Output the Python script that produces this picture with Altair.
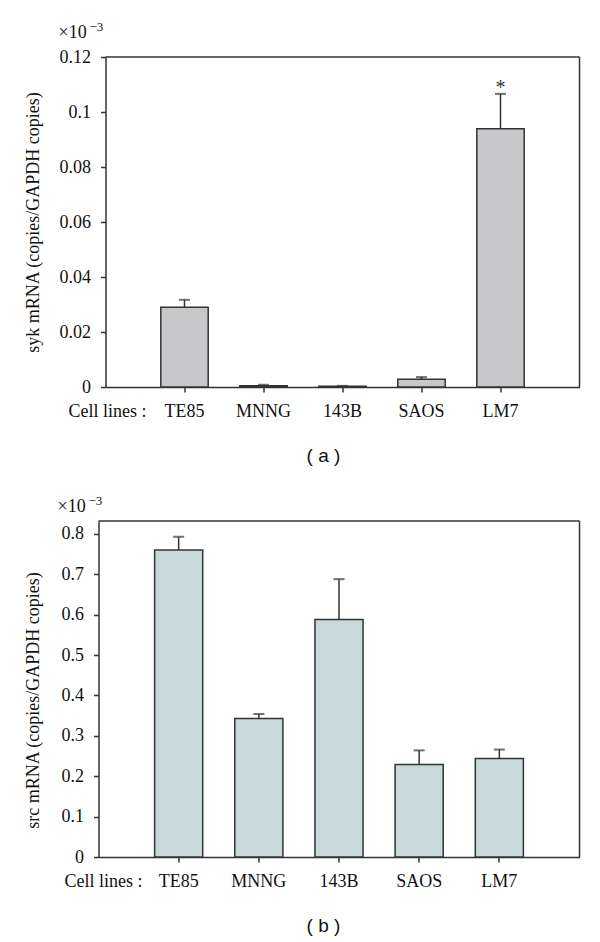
import altair as alt
import pandas as pd

cells = ["TE85", "MNNG", "143B", "SAOS", "LM7"]
syk = [0.0290, 0.0005, 0.0003, 0.0028, 0.0939]
syk_err = [0.0027, 0.0003, 0.0001, 0.0008, 0.0127]
src = [0.760, 0.343, 0.588, 0.229, 0.244]
src_err = [0.033, 0.011, 0.100, 0.035, 0.022]
syk_ticks = [0, 0.02, 0.04, 0.06, 0.08, 0.1, 0.12]
src_ticks = [0, 0.1, 0.2, 0.3, 0.4, 0.5, 0.6, 0.7, 0.8]
star_cells = ["LM7"]
texts = {"cell": "Cell lines :", "mult": "×10", "exp": "−3", "a": "( a )", "b": "( b )"}

SERIF = "Liberation Serif"
SANS = "Liberation Sans"
DARK = "#333333"
W = 481


def text_layer(t, x, y, size, font=SERIF, align="left", baseline="alphabetic"):
    d = pd.DataFrame({"t": [t]})
    return alt.Chart(d).mark_text(font=font, fontSize=size, color="#111", align=align,
                                  baseline=baseline).encode(
        text="t:N", x=alt.value(x), y=alt.value(y))


def frame_rule(**enc):
    d = pd.DataFrame({"k": [0]})
    return alt.Chart(d).mark_rule(color=DARK, strokeWidth=1.5).encode(**enc)


def panel(values, errs, ticks, ymax, ytitle, color, h, shift, tpad, tag, stars,
          cell_x, mult_xy, exp_xy, tag_x, titleY=None):
    df = pd.DataFrame({"cell": cells, "val": values,
                       "hi": [v + e for v, e in zip(values, errs)]})
    xaxis = alt.Axis(title=None, labelAngle=0, labelFont=SERIF, labelFontSize=18,
                     labelColor="#111", labelPadding=10, tickSize=5, tickColor=DARK,
                     tickWidth=1.5, domainColor=DARK, domainWidth=1.5)
    x = alt.X("cell:N", sort=cells,
              scale=alt.Scale(paddingInner=0.4, paddingOuter=0.7, range=[shift, W]),
              axis=xaxis)
    yaxis = dict(title=ytitle, values=ticks, labelExpr="format(datum.value, '~g')",
                 labelFont=SERIF, labelFontSize=18, offset=-shift,
                 labelColor="#111", labelPadding=10, tickSize=5, tickColor=DARK, tickWidth=1.5,
                 domainColor=DARK, domainWidth=1.5, titleFont=SERIF, titleFontSize=18,
                 titleFontWeight="normal", titleColor="#111", titlePadding=tpad, grid=False)
    if titleY is not None:
        yaxis["titleY"] = titleY
    yscale = alt.Scale(domain=[0, ymax], nice=False, zero=True)
    ax = alt.Axis(**yaxis)
    base = alt.Chart(df).encode(x=x)
    bars = base.mark_bar(color=color, stroke=DARK, strokeWidth=1.5).encode(
        y=alt.Y("val:Q", scale=yscale, axis=ax))
    rules = base.mark_rule(color=DARK, strokeWidth=1.5).encode(
        y=alt.Y("val:Q", scale=yscale, axis=ax), y2="hi:Q")
    caps = base.mark_tick(color=DARK, size=11, thickness=2).encode(
        y=alt.Y("hi:Q", scale=yscale, axis=ax))
    layers = [bars, rules, caps,
              frame_rule(x=alt.value(shift), x2=alt.value(W), y=alt.value(0)),
              frame_rule(x=alt.value(W), y=alt.value(0), y2=alt.value(h))]
    if stars:
        sdf = df[df["cell"].isin(stars)].assign(s="*")
        layers.append(alt.Chart(sdf).mark_text(font=SERIF, fontSize=20, color="#333",
                                               baseline="middle", dy=-6)
                      .encode(x=x, y=alt.Y("hi:Q", scale=yscale, axis=ax), text="s:N"))
    layers.append(text_layer(texts["cell"], cell_x, h + 29.5, 18, align="right"))
    layers.append(text_layer(texts["mult"], mult_xy[0], mult_xy[1], 18))
    layers.append(text_layer(texts["exp"], exp_xy[0], exp_xy[1], 13))
    layers.append(text_layer(tag, tag_x, h + 69, 19, font=SANS, align="center",
                             baseline="middle"))
    return alt.layer(*layers).properties(width=W, height=h,
                                         view=alt.ViewBackground(strokeOpacity=0))


top = panel(syk, syk_err, syk_ticks, 0.12, "syk mRNA (copies/GAPDH copies)", "#c8c8ca",
            330, 7, 17, texts["a"], star_cells,
            cell_x=48, mult_xy=(-40, -19), exp_xy=(-9, -26), tag_x=323 - 98)
bottom = panel(src, src_err, src_ticks, 0.832, "src mRNA (copies/GAPDH copies)", "#c9d8d8",
               336, 0, 19, texts["b"], [],
               cell_x=44, mult_xy=(-41, -9), exp_xy=(-10, -16), tag_x=323 - 98, titleY=179)

chart = alt.vconcat(top, bottom, spacing=29).properties(
    padding={"left": 15.5, "top": 13, "right": 5, "bottom": 5}
)

chart.save("out.html", embed_options={"renderer": "svg", "actions": False})
